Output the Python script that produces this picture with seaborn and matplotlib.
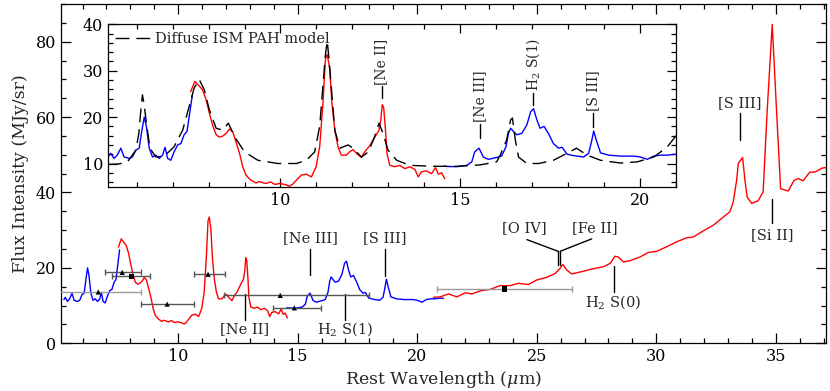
import numpy as np
import pandas as pd
import matplotlib
matplotlib.use("Agg")
import matplotlib.pyplot as plt
from matplotlib.ticker import MultipleLocator
import seaborn as sns

# ── Espectro IRS (MJy/sr) por módulo ──────────────────
sl2_wave = [5.22, 5.28, 5.37, 5.46, 5.56, 5.65, 5.79, 5.88, 5.98, 6.07, 6.14, 6.21,
            6.27, 6.35, 6.44, 6.53, 6.63, 6.72, 6.79, 6.86, 6.95, 7.04, 7.14, 7.23,
            7.32, 7.40, 7.46, 7.55]
sl2_flux = [11.6, 12.2, 11.1, 11.8, 13.3, 11.4, 11.1, 11.4, 12.9, 13.3, 16.9, 20.0,
            18.0, 13.3, 11.4, 11.8, 11.1, 11.8, 13.5, 11.1, 10.7, 12.5, 14.0, 14.3,
            16.2, 16.9, 20.1, 24.8]

sl1_wave = [7.50, 7.62, 7.74, 7.83, 7.93, 8.02, 8.11, 8.21, 8.30, 8.39, 8.49, 8.58,
            8.67, 8.76, 8.86, 8.95, 9.04, 9.11, 9.18, 9.25, 9.32, 9.39, 9.46, 9.53,
            9.60, 9.67, 9.74, 9.81, 9.88, 9.95, 10.02, 10.09, 10.16, 10.25, 10.35,
            10.44, 10.58, 10.72, 10.86, 10.99, 11.09, 11.18, 11.25, 11.30, 11.37,
            11.43, 11.51, 11.60, 11.69, 11.83, 11.92, 12.02, 12.11, 12.25, 12.34,
            12.48, 12.62, 12.69, 12.74, 12.79, 12.83, 12.87, 12.92, 12.96, 13.04,
            13.18, 13.32, 13.46, 13.60, 13.74, 13.83, 13.92, 14.06, 14.20, 14.31,
            14.39, 14.48, 14.57]
sl1_flux = [25.5, 27.7, 26.7, 25.9, 23.8, 20.9, 18.3, 16.2, 15.7, 15.9, 16.5, 17.4,
            16.9, 14.7, 12.2, 9.3, 7.5, 6.9, 6.4, 6.1, 5.8, 6.1, 6.0, 5.8,
            5.7, 5.9, 6.0, 5.6, 5.5, 5.7, 5.65, 5.5, 5.4, 5.1, 5.6,
            6.4, 7.5, 7.7, 7.1, 9.3, 13.6, 23.0, 32.5, 33.5, 30.3,
            23.0, 17.2, 13.6, 11.8, 11.8, 12.5, 13.0, 12.2, 11.3, 12.5,
            13.8, 15.7, 16.5, 17.2, 19.4, 22.7, 22.0, 17.2, 12.2, 9.6,
            9.3, 9.6, 8.9, 9.3, 8.7, 7.1, 8.2, 8.4, 7.8, 9.1,
            7.7, 8.0, 6.7]

ll2_wave = [14.53, 14.90, 15.18, 15.32, 15.40, 15.52, 15.64, 15.78, 16.01, 16.15,
            16.27, 16.34, 16.40, 16.48, 16.57, 16.71, 16.85, 16.96, 17.04, 17.13,
            17.22, 17.33, 17.45, 17.59, 17.73, 17.83, 17.97, 18.15, 18.43, 18.57,
            18.66, 18.71, 18.78, 18.90, 19.13, 19.45, 19.82, 20.01, 20.20, 20.38,
            20.57, 20.76, 20.99, 21.10]
ll2_flux = [9.4, 9.3, 9.6, 10.35, 12.5, 13.3, 11.4, 10.9, 11.3, 11.6,
            13.6, 16.5, 17.6, 16.9, 16.2, 16.5, 18.3, 21.2, 21.8, 19.4,
            17.6, 18.0, 16.5, 14.3, 13.3, 13.5, 12.0, 11.7, 11.4, 12.2,
            15.1, 17.0, 15.1, 12.3, 11.8, 11.6, 11.6, 11.4, 10.9, 11.6,
            11.8, 11.8, 12.0, 11.9]

ll1_wave = [20.68, 20.96, 21.31, 21.66, 22.01, 22.29, 22.63, 23.05, 23.47, 23.89,
            24.23, 24.65, 25.00, 25.42, 25.77, 25.98, 26.09, 26.26, 26.46, 26.88,
            27.30, 27.79, 28.07, 28.27, 28.41, 28.62, 28.90, 29.32, 29.67, 30.02,
            30.43, 30.85, 31.27, 31.55, 31.96, 32.38, 32.73, 33.08, 33.22, 33.36,
            33.43, 33.61, 33.71, 33.80, 33.99, 34.26, 34.47, 34.64, 34.85, 35.03,
            35.20, 35.52, 35.76, 35.94, 36.14, 36.42, 36.63, 36.95, 37.10]
ll1_flux = [12.2, 12.3, 13.1, 12.3, 13.4, 13.1, 13.9, 14.3, 15.3, 15.3,
            15.9, 15.6, 16.8, 17.5, 18.5, 19.9, 20.9, 19.4, 18.4, 19.0,
            19.7, 20.3, 21.2, 23.1, 22.9, 21.6, 21.9, 22.9, 24.1, 24.4,
            25.6, 26.9, 28.0, 28.2, 29.8, 31.3, 33.1, 34.9, 37.5, 43.2,
            47.7, 49.3, 43.2, 38.8, 37.1, 37.8, 40.2, 61.8, 84.6, 61.8,
            41.0, 40.4, 43.2, 43.7, 43.1, 45.4, 45.4, 46.5, 46.6]

# Modelo PAH do meio difuso (inset)
pah_wave = [5.20, 5.50, 5.74, 5.98, 6.06, 6.10, 6.16, 6.21, 6.26, 6.37, 6.53, 6.77,
            7.04, 7.28, 7.46, 7.60, 7.74, 7.88, 8.02, 8.21, 8.39, 8.55, 8.72, 9.00,
            9.37, 9.92, 10.16, 10.44, 10.72, 10.95, 11.09, 11.18, 11.25, 11.30, 11.35,
            11.41, 11.51, 11.65, 11.88, 12.02, 12.25, 12.44, 12.62, 12.74, 12.85,
            12.99, 13.23, 13.60, 14.25, 14.90, 15.55, 16.01, 16.11, 16.29, 16.40,
            16.45, 16.53, 16.62, 16.85, 17.18, 17.59, 17.97, 18.23, 18.53, 18.90,
            19.45, 19.92, 20.38, 20.76, 20.94, 21.05]
pah_flux = [9.8, 9.9, 10.3, 12.9, 16.5, 20.1, 24.8, 22.6, 19.4, 13.3, 11.4, 11.6,
            13.6, 17.2, 22.3, 26.3, 28.1, 25.9, 21.6, 17.6, 17.2, 18.7, 15.8, 12.5,
            10.7, 10.0, 10.0, 10.0, 10.7, 12.5, 18.0, 26.7, 33.5, 36.4, 32.5,
            26.7, 17.2, 13.3, 14.0, 13.3, 11.4, 12.5, 15.8, 18.7, 16.5,
            12.9, 10.7, 9.6, 9.4, 9.4, 9.7, 10.35, 11.8, 15.1, 19.4,
            19.8, 15.1, 11.4, 10.0, 10.0, 10.7, 12.2, 13.3, 11.8, 10.7,
            10.1, 10.35, 11.4, 13.6, 15.4, 16.5]

# Fotometria em banda larga
phot_wave   = [6.66, 7.66, 8.04, 9.54, 11.25, 14.27, 14.86, 23.65]
phot_flux   = [13.6, 18.8, 17.8, 10.4, 18.3, 12.7, 9.4, 14.4]
phot_lo     = [4.86, 6.95, 7.24, 8.43, 10.65, 11.90, 13.97, 20.82]
phot_hi     = [8.43, 8.43, 8.84, 10.65, 11.95, 18.00, 15.98, 26.49]
phot_marker = ["^", "^", "s", "^", "^", "^", "^", "s"]
phot_light  = [True, False, False, False, False, False, False, True]

# Identificação de linhas no painel principal: (texto, x texto, y texto, x linha, y0, y1)
main_lines = [
    ("[Ne III]", 15.53, 27.8, 15.53, 24.9, 18.1),
    ("[S III]", 18.66, 27.8, 18.66, 24.9, 17.8),
    ("[Ne II]", 12.78, 3.7, 12.78, 13.2, 6.2),
    ("H$_2$ S(1)", 16.99, 3.7, 16.99, 13.2, 6.2),
    ("H$_2$ S(0)", 28.20, 10.8, 28.23, 20.5, 13.7),
    ("[S III]", 33.50, 63.8, 33.50, 61.1, 54.0),
    ("[Si II]", 34.85, 28.7, 34.85, 38.4, 31.8),
]
# Linhas no inset: (texto, x, y0, y1)
inset_lines = [
    ("[Ne II]", 12.81, 24.1, 26.6),
    ("[Ne III]", 15.55, 15.5, 18.5),
    ("H$_2$ S(1)", 17.02, 22.7, 25.3),
    ("[S III]", 18.69, 17.9, 20.9),
]

sns.set_theme(style="ticks")
plt.rcParams.update({
    "font.family": ["DejaVu Serif"],
    "mathtext.fontset": "dejavuserif",
    "axes.linewidth": 0.9,
    "xtick.direction": "in",
    "ytick.direction": "in",
    "xtick.top": True,
    "ytick.right": True,
    "xtick.color": "black",
    "ytick.color": "black",
    "axes.edgecolor": "black",
})

fig = plt.figure(figsize=(8.3, 3.91), dpi=100)
ax = fig.add_axes([0.0735, 0.122, 0.9217, 0.8678])

segments = [
    (sl2_wave, sl2_flux, "#0000ff"),
    (sl1_wave, sl1_flux, "#ff0000"),
    (ll2_wave, ll2_flux, "#0000ff"),
    (ll1_wave, ll1_flux, "#ff0000"),
]
for w, f, c in segments:
    df = pd.DataFrame({"wave": w, "flux": f})
    sns.lineplot(data=df, x="wave", y="flux", ax=ax, color=c, lw=1.0,
                 sort=False, estimator=None)

# Fotometria com barras de largura de banda
for w, f, lo, hi, m, light in zip(phot_wave, phot_flux, phot_lo, phot_hi,
                                   phot_marker, phot_light):
    ecol = "#9a9a9a" if light else "#555555"
    ax.errorbar(w, f, xerr=[[w - lo], [hi - w]], fmt="none", ecolor=ecol,
                elinewidth=1.0, capsize=2.5, capthick=1.0, zorder=3)
phot_df = pd.DataFrame({"wave": phot_wave, "flux": phot_flux, "m": phot_marker})
sns.scatterplot(data=phot_df, x="wave", y="flux", style="m",
                markers={"^": "^", "s": "s"}, color="black", s=14,
                edgecolor="none", legend=False, ax=ax, zorder=4)

for txt, xt, yt, xl, y0, y1 in main_lines:
    ax.text(xt, yt, txt, ha="center", va="center", fontsize=10.5)
    ax.plot([xl, xl], [y0, y1], color="black", lw=1.0)

# [O IV] / [Fe II]
ax.text(24.49, 30.5, "[O IV]", ha="center", va="center", fontsize=10.5)
ax.text(27.41, 30.5, "[Fe II]", ha="center", va="center", fontsize=10.5)
ax.plot([24.59, 25.89], [27.5, 24.4], color="black", lw=1.0)
ax.plot([27.30, 25.98], [27.7, 24.4], color="black", lw=1.0)
ax.plot([25.89, 25.89], [24.4, 20.7], color="black", lw=1.0)
ax.plot([25.98, 25.98], [24.4, 20.7], color="black", lw=1.0)

ax.set_xlim(5.1, 37.1)
ax.set_ylim(0, 90)
ax.xaxis.set_major_locator(MultipleLocator(5))
ax.xaxis.set_minor_locator(MultipleLocator(1))
ax.yaxis.set_major_locator(MultipleLocator(20))
ax.yaxis.set_minor_locator(MultipleLocator(5))
ax.tick_params(which="major", length=7, width=0.9, labelsize=11.5)
ax.tick_params(which="minor", length=3.5, width=0.9)
ax.set_xlabel("Rest Wavelength ($\\mu$m)", fontsize=12.5, labelpad=3)
ax.set_ylabel("Flux Intensity (MJy/sr)", fontsize=12.5, labelpad=5)

# ── Inset ──────────────────────────────────────────
axin = fig.add_axes([0.130, 0.5225, 0.6845, 0.4153])
axin.set_facecolor("white")
for w, f, c in segments[:3]:
    df = pd.DataFrame({"wave": w, "flux": f})
    sns.lineplot(data=df, x="wave", y="flux", ax=axin, color=c, lw=1.0,
                 sort=False, estimator=None)
pah_df = pd.DataFrame({"wave": pah_wave, "flux": pah_flux})
sns.lineplot(data=pah_df, x="wave", y="flux", ax=axin, color="black", lw=1.0,
             linestyle=(0, (10, 5)), sort=False, estimator=None,
             label="Diffuse ISM PAH model")
axin.legend(loc="upper left", frameon=False, fontsize=10.5, handlelength=2.5,
            handletextpad=0.2, borderaxespad=0.3, borderpad=0.2)

for txt, xl, y0, y1 in inset_lines:
    axin.plot([xl, xl], [y0, y1], color="black", lw=1.0)
    axin.text(xl, y1 + 0.4, txt, rotation=90, ha="center", va="bottom", fontsize=10)

axin.set_xlim(5.2, 21.0)
axin.set_ylim(5, 40)
axin.xaxis.set_major_locator(MultipleLocator(5))
axin.xaxis.set_minor_locator(MultipleLocator(1))
axin.yaxis.set_major_locator(MultipleLocator(10))
axin.yaxis.set_minor_locator(MultipleLocator(2))
axin.tick_params(which="major", length=6.5, width=0.9, labelsize=11.5)
axin.tick_params(which="minor", length=3.5, width=0.9)
axin.set_xlabel("")
axin.set_ylabel("")

fig.savefig("out.png", dpi=100)
plt.close(fig)
